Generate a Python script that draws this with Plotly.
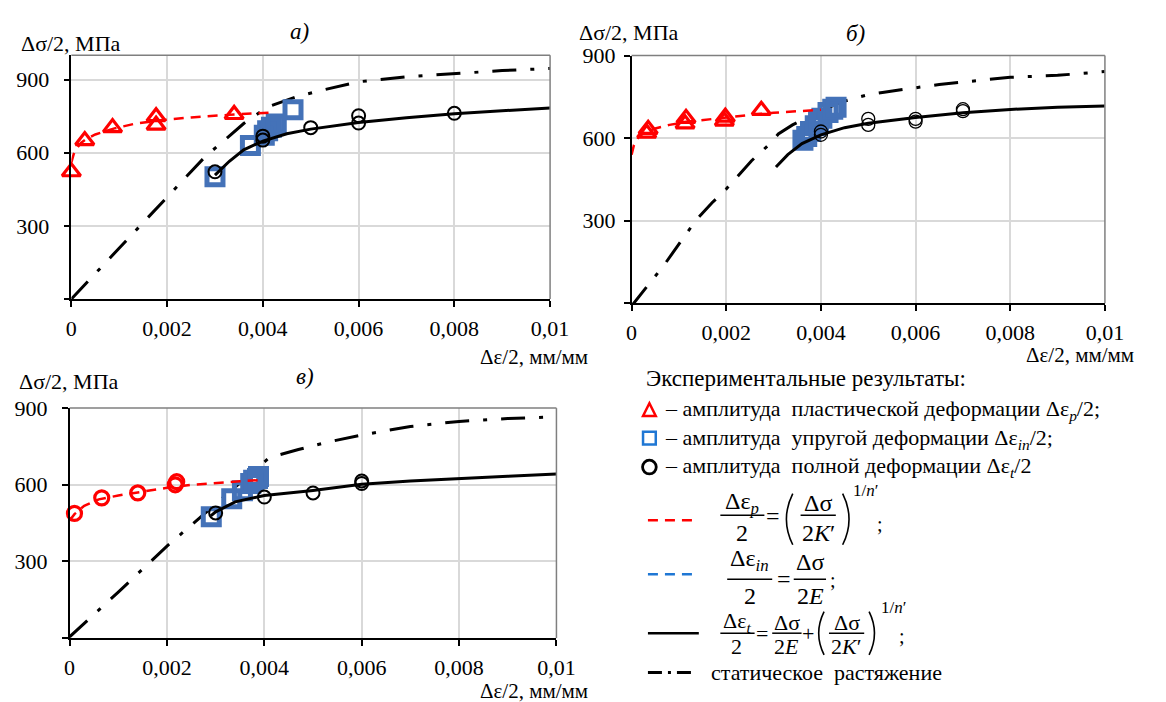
import plotly.graph_objects as go

W, H = 1166, 702
FONT = "Liberation Serif"

# ---------------- data ----------------
x_ticks = [0, 0.002, 0.004, 0.006, 0.008, 0.01]
x_ticktext = ["0", "0,002", "0,004", "0,006", "0,008", "0,01"]
y_ticks = [0, 300, 600, 900]
y_ticktext = ["", "300", "600", "900"]

# panel a
a_tri_x = [0.0000, 0.00028, 0.00086, 0.00177, 0.00177, 0.0034]
a_tri_y = [522, 650, 703, 748, 713, 757]
a_red_x = [0.0000, 0.00005, 0.0001, 0.0002, 0.0003, 0.0005, 0.0009, 0.0013, 0.0018, 0.0025, 0.0034, 0.0042]
a_red_y = [560, 595, 615, 640, 655, 675, 700, 718, 732, 745, 757, 765]
a_sq_x = [0.0030, 0.00374, 0.00403, 0.0041, 0.00418, 0.00428, 0.00463]
a_sq_y = [502, 630, 672, 690, 705, 718, 776]
a_circ_x = [0.0030, 0.0040, 0.0040, 0.0050, 0.0060, 0.0060, 0.0080]
a_circ_y = [522, 652, 668, 703, 722, 752, 762]
a_fit_x = [0.0030, 0.0033, 0.0036, 0.0040, 0.0045, 0.0050, 0.0060, 0.0070, 0.0080, 0.0090, 0.0100]
a_fit_y = [508, 565, 612, 648, 678, 697, 724, 744, 760, 773, 784]
a_st_x = [0.0000, 0.0010, 0.0020, 0.0028, 0.0031, 0.0036, 0.0041, 0.0047, 0.0052, 0.0060, 0.0070, 0.0080, 0.0090, 0.0100]
a_st_y = [0, 208, 418, 585, 635, 720, 788, 830, 855, 891, 912, 926, 937, 946]

# panel b
b_tri_x = [0.00032, 0.00035, 0.00113, 0.00115, 0.00196, 0.00198, 0.00274]
b_tri_y = [618, 632, 652, 672, 662, 676, 701]
b_red_x = [0.0000, 0.00005, 0.00015, 0.0003, 0.0005, 0.0008, 0.0012, 0.0016, 0.0020, 0.0025, 0.0030, 0.0035, 0.0040]
b_red_y = [540, 575, 605, 622, 635, 648, 660, 668, 675, 684, 692, 698, 703]
b_sq_x = [0.00362, 0.00370, 0.00378, 0.00388, 0.00395, 0.00402, 0.00415, 0.00425, 0.00432]
b_sq_y = [592, 606, 624, 645, 660, 672, 693, 705, 712]
b_circ_x = [0.0040, 0.0040, 0.0050, 0.0050, 0.0060, 0.0060, 0.0070, 0.0070]
b_circ_y = [612, 624, 648, 670, 660, 670, 698, 705]
b_fit_x = [0.00305, 0.0033, 0.0036, 0.0040, 0.0045, 0.0050, 0.0060, 0.0070, 0.0080, 0.0090, 0.0100]
b_fit_y = [495, 540, 580, 612, 638, 654, 675, 692, 704, 712, 717]
b_st_x = [0.0000, 0.0007, 0.00136, 0.0017, 0.0020, 0.00253, 0.00295, 0.0031, 0.0034, 0.0039, 0.0044, 0.0050, 0.0053, 0.0065, 0.0070, 0.0080, 0.0090, 0.0100]
b_st_y = [-10, 142, 302, 365, 415, 517, 584, 615, 648, 689, 730, 758, 766, 795, 804, 821, 828, 842]

# panel c
c_rc_x = [0.0001, 0.00066, 0.0014, 0.00217, 0.0022]
c_rc_y = [488, 549, 568, 600, 612]
c_red_x = [0.0000, 0.0001, 0.0003, 0.0006, 0.0010, 0.0014, 0.0020, 0.0025, 0.0030, 0.0035, 0.0040]
c_red_y = [460, 485, 518, 543, 558, 570, 588, 600, 608, 614, 619]
c_sq_x = [0.00291, 0.00333, 0.00355, 0.00372, 0.00378, 0.00386, 0.00388]
c_sq_y = [475, 545, 577, 605, 618, 625, 632]
c_circ_x = [0.0030, 0.0040, 0.0050, 0.0060, 0.0060]
c_circ_y = [490, 552, 568, 605, 615]
c_fit_x = [0.0029, 0.0030, 0.0034, 0.0040, 0.0050, 0.0060, 0.0070, 0.0080, 0.0090, 0.0100]
c_fit_y = [478, 494, 533, 558, 578, 602, 615, 623, 633, 642]
c_st_x = [0.0000, 0.0010, 0.0020, 0.0030, 0.0034, 0.00385, 0.0041, 0.0047, 0.0053, 0.0060, 0.0070, 0.0080, 0.0090, 0.0100]
c_st_y = [5, 180, 360, 525, 592, 668, 706, 738, 767, 795, 828, 848, 859, 866]

# ---------------- styling ----------------
RED = "#FF0000"
BLUE_M = "#4472B8"
BLUE_L = "#1F77D4"
GRID = "#D9D9D9"
DASH_RED = "10px,7px"
DASH_DOT = "24px,14px,4px,14px"


def PX(x):
    return x / W


def PY(y):
    return 1 - y / H


fig = go.Figure()

panels = [
    dict(ax="", xd=(66.8, 556), yd=(44, 292), yr=1000, ys=10),
    dict(ax="2", xd=(639.3, 1123), yd=(44.3, 296.3), yr=900, ys=4),
    dict(ax="3", xd=(65, 562.5), yd=(403, 637), yr=900, ys=10),
]

layout_axes = {}
for p in panels:
    n = p["ax"]
    layout_axes["xaxis" + n] = dict(
        domain=[PX(p["xd"][0]), PX(p["xd"][1])], anchor="y" + n,
        range=[0, 0.01], tickvals=x_ticks, ticktext=x_ticktext,
        showgrid=True, gridcolor=GRID, gridwidth=1.5, zeroline=False,
        showline=True, linecolor="black", linewidth=1.5,
        ticks="outside", ticklen=6, tickcolor="black", tickwidth=1.5,
        tickfont=dict(family=FONT, size=22, color="black"),
        ticklabelstandoff=3,
    )
    layout_axes["yaxis" + n] = dict(
        domain=[PY(p["yd"][1]), PY(p["yd"][0])], anchor="x" + n,
        range=[0, p["yr"]], tickvals=y_ticks, ticktext=y_ticktext,
        showgrid=True, gridcolor=GRID, gridwidth=1.5, zeroline=False,
        showline=True, linecolor="black", linewidth=1.5,
        ticks="outside", ticklen=6, tickcolor="black", tickwidth=1.5,
        tickfont=dict(family=FONT, size=22, color="black"),
        ticklabelstandoff=p["ys"],
    )


def add_panel(n, st, fit, red, sq, first, circ, first_is_circle=False, circ_lw=2.0):
    xa, ya = "x" + n, "y" + n
    fig.add_trace(go.Scatter(x=st[0], y=st[1], mode="lines", xaxis=xa, yaxis=ya,
                             line=dict(color="black", width=3, dash=DASH_DOT)))
    fig.add_trace(go.Scatter(x=sq[0], y=sq[1], mode="markers", xaxis=xa, yaxis=ya, cliponaxis=False,
                             marker=dict(symbol="square-open", size=16, color=BLUE_M,
                                         line=dict(width=5, color=BLUE_M))))
    fig.add_trace(go.Scatter(x=red[0], y=red[1], mode="lines", xaxis=xa, yaxis=ya,
                             line=dict(color=RED, width=2.5, dash=DASH_RED)))
    sym = "circle-open" if first_is_circle else "triangle-up-open"
    fig.add_trace(go.Scatter(x=first[0], y=first[1], mode="markers", xaxis=xa, yaxis=ya, cliponaxis=False,
                             marker=dict(symbol=sym, size=16 if not first_is_circle else 14, color=RED,
                                         line=dict(width=3.2, color=RED))))
    fig.add_trace(go.Scatter(x=fit[0], y=fit[1], mode="lines", xaxis=xa, yaxis=ya,
                             line=dict(color="black", width=3)))
    fig.add_trace(go.Scatter(x=circ[0], y=circ[1], mode="markers", xaxis=xa, yaxis=ya, cliponaxis=False,
                             marker=dict(symbol="circle-open", size=13, color="black",
                                         line=dict(width=circ_lw, color="black"))))


add_panel("", (a_st_x, a_st_y), (a_fit_x, a_fit_y), (a_red_x, a_red_y), (a_sq_x, a_sq_y),
          (a_tri_x, a_tri_y), (a_circ_x, a_circ_y))
add_panel("2", (b_st_x, b_st_y), (b_fit_x, b_fit_y), (b_red_x, b_red_y), (b_sq_x, b_sq_y),
          (b_tri_x, b_tri_y), (b_circ_x, b_circ_y), circ_lw=1.3)
add_panel("3", (c_st_x, c_st_y), (c_fit_x, c_fit_y), (c_red_x, c_red_y), (c_sq_x, c_sq_y),
          (c_rc_x, c_rc_y), (c_circ_x, c_circ_y), first_is_circle=True)

shapes = []
# grey top / right frame of each plot area
for p in panels:
    x0, x1 = PX(p["xd"][0]), PX(p["xd"][1])
    y0, y1 = PY(p["yd"][1]), PY(p["yd"][0])
    shapes.append(dict(type="line", xref="paper", yref="paper", x0=x0, x1=x1, y0=y1, y1=y1,
                       line=dict(color="#7F7F7F", width=1.5)))
    shapes.append(dict(type="line", xref="paper", yref="paper", x0=x1, x1=x1, y0=y0, y1=y1,
                       line=dict(color="#7F7F7F", width=1.5)))

annotations = []


def txt(x, y, s, size=22, xanchor="center", yanchor="middle", color="black"):
    annotations.append(dict(x=PX(x), y=PY(y), xref="paper", yref="paper", text=s, showarrow=False,
                            xanchor=xanchor, yanchor=yanchor,
                            font=dict(family=FONT, size=size, color=color)))


def hline(x0, x1, y, color="black", width=1.5, dash="solid"):
    shapes.append(dict(type="line", xref="paper", yref="paper", x0=PX(x0), x1=PX(x1), y0=PY(y), y1=PY(y),
                       line=dict(color=color, width=width, dash=dash)))


def paren(xe, xm, ytop, ybot):
    ym = (ytop + ybot) / 2
    shapes.append(dict(type="path", xref="paper", yref="paper",
                       path=f"M {PX(xe)} {PY(ytop)} Q {PX(xm)} {PY(ym)} {PX(xe)} {PY(ybot)}",
                       line=dict(color="black", width=1.6)))


# axis titles and panel labels
Y_TITLE = "Δσ/2, МПа"
X_TITLE = "Δε/2, мм/мм"
txt(13, 32, Y_TITLE, xanchor="left")
txt(584, 21, Y_TITLE, xanchor="left")
txt(11, 376, Y_TITLE, xanchor="left")
txt(597, 351, X_TITLE, 21, xanchor="right")
txt(1155, 349, X_TITLE, 21, xanchor="right")
txt(597, 691, X_TITLE, 21, xanchor="right")
txt(300, 20, "<i>а)</i>", 23)
txt(868, 22, "<i>б)</i>", 23)
txt(306, 371, "<i>в)</i>", 23)

# legend block
txt(652, 373, "Экспериментальные результаты:", 23, xanchor="left")
txt(671, 405, "– амплитуда\u00a0\u00a0пластической деформации Δε<sub><i>p</i></sub>/2;", xanchor="left")
txt(671, 434, "– амплитуда\u00a0\u00a0упругой деформации Δε<sub><i>in</i></sub>/2;", xanchor="left")
txt(671, 463, "– амплитуда\u00a0\u00a0полной деформации Δε<sub><i>t</i></sub>/2", xanchor="left")

# legend symbols
shapes.append(dict(type="path", xref="paper", yref="paper",
                   path=f"M {PX(651)} {PY(411)} L {PX(664)} {PY(411)} L {PX(657.5)} {PY(398)} Z",
                   line=dict(color=RED, width=2.5)))
shapes.append(dict(type="rect", xref="paper", yref="paper", x0=PX(651), x1=PX(664), y0=PY(440), y1=PY(427),
                   line=dict(color=BLUE_L, width=2.5)))
shapes.append(dict(type="circle", xref="paper", yref="paper", x0=PX(650.5), x1=PX(664.5), y0=PY(470), y1=PY(456),
                   line=dict(color="black", width=2.8)))

# legend line samples
hline(656, 703, 517, RED, 2.5, "10px,7px")
hline(656, 703, 572, BLUE_L, 2.5, "10px,7px")
hline(656, 708, 632, "black", 2.5)
hline(656, 700, 672, "black", 3, "14px,6px,3px,6px")

# formula 1
F1 = 24
txt(752, 500, "Δε<sub><i>p</i></sub>", F1)
hline(730, 775, 512)
txt(752, 530, "2", F1)
txt(784, 513, "=", F1)
paren(804, 791, 490, 542)
txt(830, 500, "Δσ", F1)
hline(812, 848, 512)
txt(830, 530, "2<i>K</i>′", F1)
paren(855, 868, 490, 542)
txt(878, 487, "1/<i>n</i>′", 17)
txt(893, 521, ";", 20)

# formula 2
txt(760, 558, "Δε<sub><i>in</i></sub>", F1)
hline(737, 783, 577)
txt(760, 594, "2", F1)
txt(795, 577, "=", F1)
txt(822, 560, "Δσ", F1)
hline(805, 838, 577)
txt(822, 594, "2<i>E</i>", F1)
txt(845, 578, ";", 20)

# formula 3
F3 = 22
txt(747, 621, "Δε<sub><i>t</i></sub>", F3)
hline(730, 765, 632)
txt(747, 646, "2", F3)
txt(773, 632, "=", F3)
txt(798, 621, "Δσ", F3)
hline(783, 813, 632)
txt(798, 646, "2<i>E</i>", F3)
txt(820, 632, "+", F3)
paren(836, 825, 610, 654)
txt(859, 621, "Δσ", F3)
hline(841, 877, 632)
txt(859, 646, "2<i>K</i>′", F3)
paren(882, 893, 610, 654)
txt(907, 606, "1/<i>n</i>′", 17)
txt(916, 635, ";", 20)

txt(718, 672, "статическое\u00a0\u00a0растяжение", xanchor="left")

fig.update_layout(
    width=W, height=H, margin=dict(l=0, r=0, t=0, b=0),
    paper_bgcolor="white", plot_bgcolor="white", showlegend=False,
    font=dict(family=FONT, size=22, color="black"),
    shapes=shapes, annotations=annotations,
    **layout_axes,
)

fig.write_html("out.html", config={"displayModeBar": False},
               post_script="document.body.style.margin='0';document.body.style.overflow='hidden';")
